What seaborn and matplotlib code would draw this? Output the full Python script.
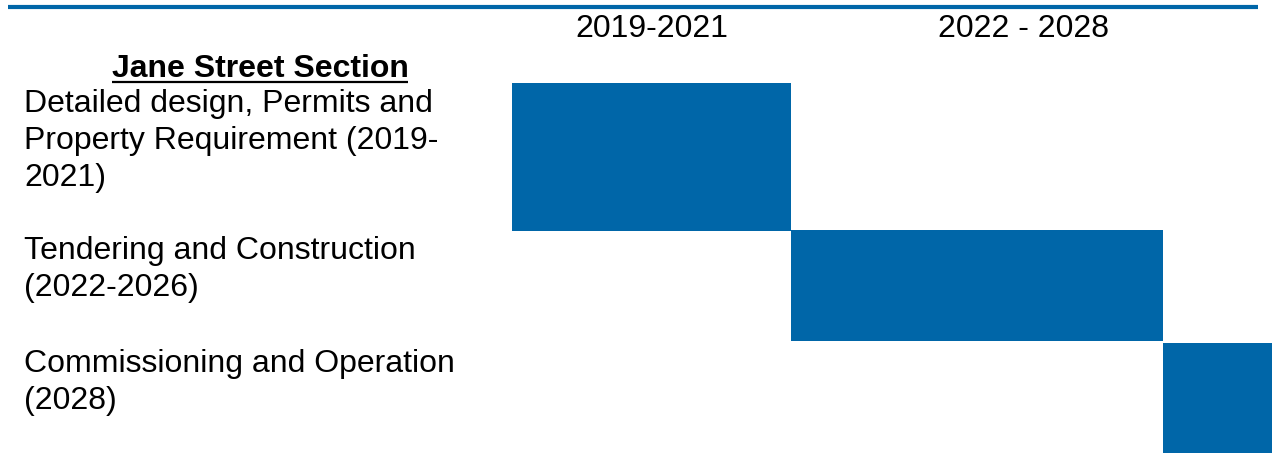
import matplotlib
matplotlib.use("Agg")
import matplotlib.pyplot as plt
import seaborn as sns
import pandas as pd
from matplotlib.lines import Line2D
from matplotlib.transforms import blended_transform_factory

# ---------------- data ----------------
section_title = "Jane Street Section"
tasks = [
    "Detailed design, Permits and\nProperty Requirement (2019-\n2021)",
    "Tendering and Construction\n(2022-2026)",
    "Commissioning and Operation\n(2028)",
]
start_year = [2019, 2022, 2026]
end_year = [2022, 2026, 2028]
period_labels = ["2019-2021", "2022 - 2028"]
period_start = [2019, 2022]
period_end = [2022, 2027]

# ---------------- layout / style ----------------
BLUE = "#0066A8"
W, H = 1272, 453
ROW_TOP = [83, 230, 343]
ROW_BOTTOM = [231, 341, 460]
FS = 23

sns.set_theme(style="white")
plt.rcParams["font.family"] = ["Liberation Sans", "DejaVu Sans"]

df = pd.DataFrame({"task": tasks, "start": start_year, "end": end_year})
df["dur"] = df["end"] - df["start"]

fig = plt.figure(figsize=(W / 100, H / 100), dpi=100)
fig.patch.set_facecolor("white")
ax = fig.add_axes([0, 0, 1, 1])
px_per_year = 93.0
ax.set_xlim(2019 - 512 / px_per_year, 2019 + (W - 512) / px_per_year)
ax.set_ylim(H, 0)
ax.axis("off")

heights = [b - t for t, b in zip(ROW_TOP, ROW_BOTTOM)]
ax.barh(y=ROW_TOP, width=df["dur"], left=df["start"], height=heights,
        align="edge", color=BLUE, edgecolor="none", linewidth=0)

# top rule
fig.add_artist(Line2D([8 / W, 1258 / W], [1 - 7 / H, 1 - 7 / H],
                      color=BLUE, linewidth=3.0, solid_capstyle="butt"))

# period headers
for lab, s, e in zip(period_labels, period_start, period_end):
    ax.text((s + e) / 2, 37, lab, ha="center", va="baseline",
            fontsize=FS, color="black")

trans = blended_transform_factory(ax.transAxes, ax.transData)
# section title (bold, underlined)
t = ax.text(260 / W, 77, section_title, transform=trans, ha="center",
            va="baseline", fontsize=FS, fontweight="bold", color="black")
ax.plot([112 / W, 408 / W], [82, 82], transform=trans, color="black",
        linewidth=1.6, solid_capstyle="butt")

# task labels
for lab, top in zip(tasks, ROW_TOP):
    ax.text(24 / W, top + 6, lab, transform=trans, ha="left", va="top",
            fontsize=FS, color="black", linespacing=1.31)

fig.savefig("out.png", dpi=100, facecolor="white")
